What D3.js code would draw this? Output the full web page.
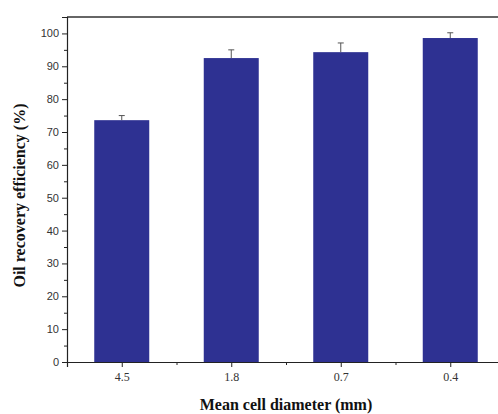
<!DOCTYPE html>
<html>
<head>
<meta charset="utf-8">
<script src="https://cdn.jsdelivr.net/npm/d3@7"></script>
<style>
  body { margin: 0; background: #fff; }
  svg { display: block; }
</style>
</head>
<body>
<svg id="chart"></svg>
<script>
const categories = ["4.5", "1.8", "0.7", "0.4"];
const recovery = [73.6, 92.5, 94.3, 98.6];
const errors = [1.4, 2.5, 2.8, 1.6];
const yTicks = [0, 10, 20, 30, 40, 50, 60, 70, 80, 90, 100];

const width = 498;
const height = 414;
const margin = { top: 17, left: 67, bottom: 52 };

const svg = d3.select("#chart")
    .attr("width", width)
    .attr("height", height);

const x = d3.scaleLinear()
    .domain([0.5, categories.length + 0.5])
    .range([margin.left, 505]);

const y = d3.scaleLinear()
    .domain([0, 105])
    .range([height - margin.bottom, margin.top]);

const barW = 55;
const barColor = "#2e3192";

// bars
svg.append("g")
    .selectAll("rect")
    .data(recovery)
    .join("rect")
        .attr("x", (d, i) => x(i + 1) - barW / 2)
        .attr("y", d => y(d))
        .attr("width", barW)
        .attr("height", d => y(0) - y(d))
        .attr("fill", barColor);

// error bars (upper half only shows above the bar)
const err = svg.append("g").attr("stroke", "#555").attr("stroke-width", 1);
recovery.forEach(function(d, i) {
    const cx = x(i + 1);
    err.append("line")
        .attr("x1", cx).attr("x2", cx)
        .attr("y1", y(d)).attr("y2", y(d + errors[i]));
    err.append("line")
        .attr("x1", cx - 3).attr("x2", cx + 3)
        .attr("y1", y(d + errors[i])).attr("y2", y(d + errors[i]));
});

// top frame
svg.append("line")
    .attr("x1", margin.left).attr("x2", width)
    .attr("y1", margin.top).attr("y2", margin.top)
    .attr("stroke", "#333").attr("stroke-width", 1.5);

// y axis
const yAxis = svg.append("g")
    .attr("transform", `translate(${margin.left},0)`)
    .call(d3.axisLeft(y).tickValues(yTicks).tickSize(5).tickPadding(3));
yAxis.select(".domain").attr("stroke", "#222").attr("stroke-width", 1.2);
yAxis.selectAll(".tick line").attr("stroke", "#222");
yAxis.selectAll("text")
    .attr("font-family", "Liberation Sans, Arial, sans-serif")
    .attr("font-size", 11)
    .attr("fill", "#333");

// y minor ticks
svg.append("g")
    .attr("transform", `translate(${margin.left},0)`)
    .call(d3.axisLeft(y).tickValues(yTicks.slice(0, -1).map(v => v + 5)).tickSize(3).tickFormat(""))
    .call(g => g.select(".domain").remove())
    .selectAll(".tick line").attr("stroke", "#222");

// x axis
const xAxis = svg.append("g")
    .attr("transform", `translate(0,${y(0)})`)
    .call(d3.axisBottom(x)
        .tickValues(d3.range(1, categories.length + 1))
        .tickFormat(i => categories[i - 1])
        .tickSize(5).tickPadding(5));
xAxis.select(".domain").attr("stroke", "#222").attr("stroke-width", 1.2);
xAxis.selectAll(".tick line").attr("stroke", "#222");
xAxis.selectAll("text")
    .attr("font-family", "Liberation Serif, Times New Roman, serif")
    .attr("font-size", 12)
    .attr("fill", "#333");

// x minor ticks
svg.append("g")
    .attr("transform", `translate(0,${y(0)})`)
    .call(d3.axisBottom(x).tickValues([1.5, 2.5, 3.5]).tickSize(3).tickFormat(""))
    .call(g => g.select(".domain").remove())
    .selectAll(".tick line").attr("stroke", "#222");

// titles
svg.append("text")
    .attr("x", 286)
    .attr("y", 410)
    .attr("text-anchor", "middle")
    .attr("font-family", "Liberation Serif, Times New Roman, serif")
    .attr("font-weight", "bold")
    .attr("font-size", 16)
    .attr("fill", "#111")
    .text("Mean cell diameter (mm)");

svg.append("text")
    .attr("transform", `translate(25,${(103 + 288) / 2}) rotate(-90)`)
    .attr("text-anchor", "middle")
    .attr("font-family", "Liberation Serif, Times New Roman, serif")
    .attr("font-weight", "bold")
    .attr("font-size", 16)
    .attr("fill", "#111")
    .text("Oil recovery efficiency (%)");
</script>
</body>
</html>
